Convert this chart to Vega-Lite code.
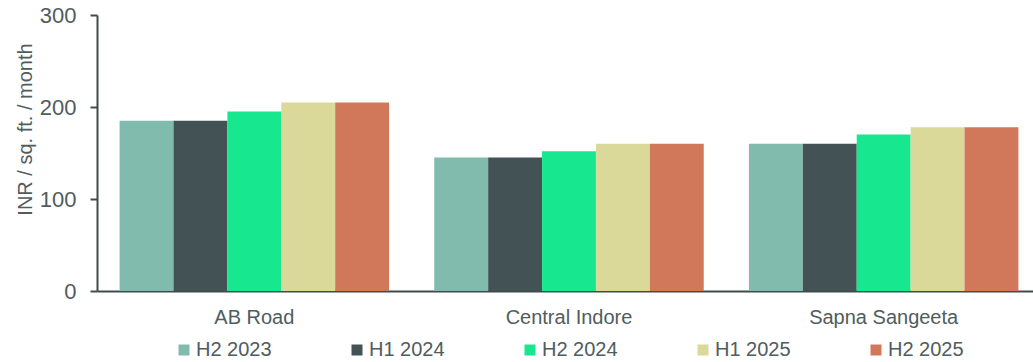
{
  "$schema": "https://vega.github.io/schema/vega-lite/v6.json",
  "autosize": {"type": "none"},
  "padding": {"left": 97, "top": 15, "right": 0, "bottom": 71},
  "width": 944,
  "height": 276,
  "background": "white",
  "config": {
    "view": {"stroke": null},
    "font": "Liberation Sans",
    "axis": {"labelColor": "#505c5d", "titleColor": "#505c5d", "domainColor": "#3e4c4d", "tickColor": "#3e4c4d", "grid": false, "domainWidth": 2, "tickWidth": 2},
    "legend": {"labelColor": "#505c5d"}
  },
  "data": {
    "values": [
      {"market": "AB Road", "period": "H2 2023", "value": 185},
      {"market": "AB Road", "period": "H1 2024", "value": 185},
      {"market": "AB Road", "period": "H2 2024", "value": 195},
      {"market": "AB Road", "period": "H1 2025", "value": 205},
      {"market": "AB Road", "period": "H2 2025", "value": 205},
      {"market": "Central Indore", "period": "H2 2023", "value": 145},
      {"market": "Central Indore", "period": "H1 2024", "value": 145},
      {"market": "Central Indore", "period": "H2 2024", "value": 152},
      {"market": "Central Indore", "period": "H1 2025", "value": 160},
      {"market": "Central Indore", "period": "H2 2025", "value": 160},
      {"market": "Sapna Sangeeta", "period": "H2 2023", "value": 160},
      {"market": "Sapna Sangeeta", "period": "H1 2024", "value": 160},
      {"market": "Sapna Sangeeta", "period": "H2 2024", "value": 170},
      {"market": "Sapna Sangeeta", "period": "H1 2025", "value": 178},
      {"market": "Sapna Sangeeta", "period": "H2 2025", "value": 178}
    ]
  },
  "mark": {"type": "bar"},
  "encoding": {
    "x": {
      "field": "market", "type": "nominal", "sort": null,
      "scale": {"paddingInner": 0.1436, "paddingOuter": 0.0718},
      "axis": {"title": null, "labelAngle": 0, "ticks": false, "labelFontSize": 20, "labelPadding": 16, "domainWidth": 2}
    },
    "xOffset": {
      "field": "period", "type": "nominal",
      "sort": ["H2 2023", "H1 2024", "H2 2024", "H1 2025", "H2 2025"],
      "scale": {"paddingInner": 0, "paddingOuter": 0}
    },
    "y": {
      "field": "value", "type": "quantitative",
      "scale": {"domain": [0, 300], "nice": false},
      "axis": {
        "values": [0, 100, 200, 300],
        "title": "INR / sq. ft. / month",
        "titleFontSize": 20, "titleFontWeight": "normal",
        "titleAngle": -90, "titleAlign": "center", "titleBaseline": "middle",
        "titleX": -72, "titleY": 114,
        "labelFontSize": 22, "labelPadding": 14, "tickSize": 7
      }
    },
    "color": {
      "field": "period", "type": "nominal",
      "scale": {
        "domain": ["H2 2023", "H1 2024", "H2 2024", "H1 2025", "H2 2025"],
        "range": ["#80bbad", "#435254", "#17e88f", "#dbd99a", "#d2785a"]
      },
      "legend": {
        "title": null, "orient": "none", "direction": "horizontal", "columns": 5,
        "legendX": 77, "legendY": 325,
        "symbolType": "square", "symbolSize": 121, "symbolStrokeWidth": 0, "symbolOpacity": 1,
        "labelFontSize": 20, "labelOffset": 2, "columnPadding": 75, "gridAlign": "all"
      }
    }
  }
}
